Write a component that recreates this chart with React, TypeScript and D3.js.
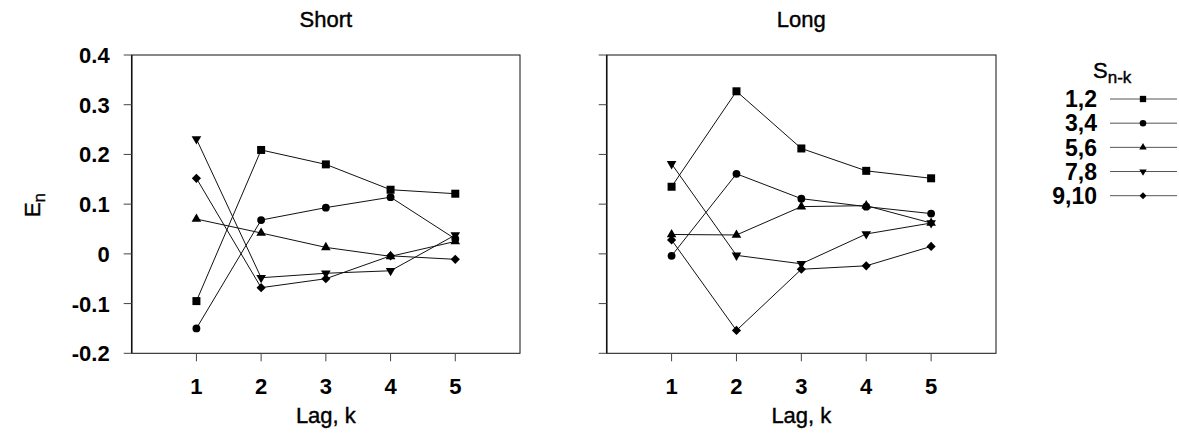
import React from 'react';
import * as d3 from 'd3';

// lags on the x axis
const lags = [1, 2, 3, 4, 5];
const yTicks = [-0.2, -0.1, 0, 0.1, 0.2, 0.3, 0.4];
const yTickLabels = ['-0.2', '-0.1', '0', '0.1', '0.2', '0.3', '0.4'];
const seriesNames = ['1,2', '3,4', '5,6', '7,8', '9,10'];

// Short panel, one array per S(n-k) group
const short12 = [-0.095, 0.209, 0.18, 0.129, 0.121];
const short34 = [-0.15, 0.068, 0.093, 0.114, 0.03];
const short56 = [0.07, 0.042, 0.013, -0.005, 0.025];
const short78 = [0.231, -0.048, -0.039, -0.034, 0.038];
const short910 = [0.152, -0.068, -0.05, -0.004, -0.011];

// Long panel
const long12 = [0.135, 0.327, 0.212, 0.167, 0.152];
const long34 = [-0.004, 0.161, 0.111, 0.095, 0.081];
const long56 = [0.039, 0.038, 0.095, 0.097, 0.062];
const long78 = [0.181, -0.003, -0.02, 0.04, 0.062];
const long910 = [0.028, -0.154, -0.031, -0.024, 0.015];

const FONT = '"Liberation Sans", Arial, Helvetica, sans-serif';

const shapes = [
  { type: d3.symbolSquare, size: 64, legendSize: 40, rotate: 0 },
  { type: d3.symbolCircle, size: 48, legendSize: 34, rotate: 0 },
  { type: d3.symbolTriangle, size: 40, legendSize: 24, rotate: 0 },
  { type: d3.symbolTriangle, size: 40, legendSize: 24, rotate: 180 },
  { type: d3.symbolSquare, size: 42, legendSize: 24, rotate: 45 },
];

// regular text drawn a touch heavier, like the reference
const medium = { fontFamily: FONT, stroke: '#000', strokeWidth: 0.4 };

function Panel({ title, left, right, data, showLabels }) {
  const x = d3.scaleLinear().domain([0, 6]).range([left, right]);
  const y = d3.scaleLinear().domain([-0.2, 0.4]).range([353.3, 55]);
  const line = d3.line<number>()
    .x((d, i) => x(lags[i]))
    .y(d => y(d));

  return (
    <g>
      <text x={(left + right) / 2} y={27} textAnchor="middle" fontSize={22} {...medium}>{title}</text>
      <rect x={left} y={y(0.4)} width={right - left} height={y(-0.2) - y(0.4)} fill="none" stroke="#111" strokeWidth={1} />
      <line x1={left} x2={left} y1={y(0.4)} y2={y(-0.2)} stroke="#111" strokeWidth={1.5} />
      {yTicks.map((t, i) => (
        <g key={t}>
          <line x1={left - 8} x2={left} y1={y(t)} y2={y(t)} stroke="#444" />
          {showLabels && (
            <text x={left - 22} y={y(t)} dy="0.36em" textAnchor="end" fontSize={22} fontWeight="bold" fontFamily={FONT}>
              {yTickLabels[i]}
            </text>
          )}
        </g>
      ))}
      {lags.map(k => (
        <g key={k}>
          <line x1={x(k)} x2={x(k)} y1={y(-0.2)} y2={y(-0.2) + 8} stroke="#444" />
          <text x={x(k)} y={394} textAnchor="middle" fontSize={22} fontWeight="bold" fontFamily={FONT}>{k}</text>
        </g>
      ))}
      <text x={(left + right) / 2} y={423} textAnchor="middle" fontSize={22} {...medium}>Lag, k</text>
      {data.map((vals, si) => (
        <g key={si}>
          <path d={line(vals)} fill="none" stroke="#111" strokeWidth={1} />
          {vals.map((v, i) => (
            <path key={i}
              d={d3.symbol().type(shapes[si].type).size(shapes[si].size)()}
              transform={`translate(${x(lags[i])},${y(v)}) rotate(${shapes[si].rotate})`}
              fill="#000" />
          ))}
        </g>
      ))}
    </g>
  );
}

export default function App() {
  const legendY = d3.scaleLinear().domain([0, 4]).range([99, 195.7]);
  return (
    <svg width={1179} height={444} style={{ position: 'absolute', left: 0, top: 0, background: '#fff' }}>
      <text transform="translate(40,205) rotate(-90)" textAnchor="middle" fontSize={22} {...medium}>
        E<tspan fontSize={17} dy={5}>n</tspan>
      </text>
      <Panel title="Short" left={131.7} right={520} showLabels={true}
        data={[short12, short34, short56, short78, short910]} />
      <Panel title="Long" left={606.7} right={996} showLabels={false}
        data={[long12, long34, long56, long78, long910]} />
      <text x={1093} y={78} fontSize={22} {...medium}>
        S<tspan fontSize={17} dy={5}>n-k</tspan>
      </text>
      {seriesNames.map((name, i) => (
        <g key={name}>
          <text x={1097} y={legendY(i)} dy="0.36em" textAnchor="end" fontSize={23} fontWeight="bold" fontFamily={FONT}>{name}</text>
          <line x1={1110} x2={1177} y1={legendY(i)} y2={legendY(i)} stroke="#555" strokeWidth={1} />
          <path d={d3.symbol().type(shapes[i].type).size(shapes[i].legendSize)()}
            transform={`translate(1143,${legendY(i)}) rotate(${shapes[i].rotate})`} fill="#000" />
        </g>
      ))}
    </svg>
  );
}
